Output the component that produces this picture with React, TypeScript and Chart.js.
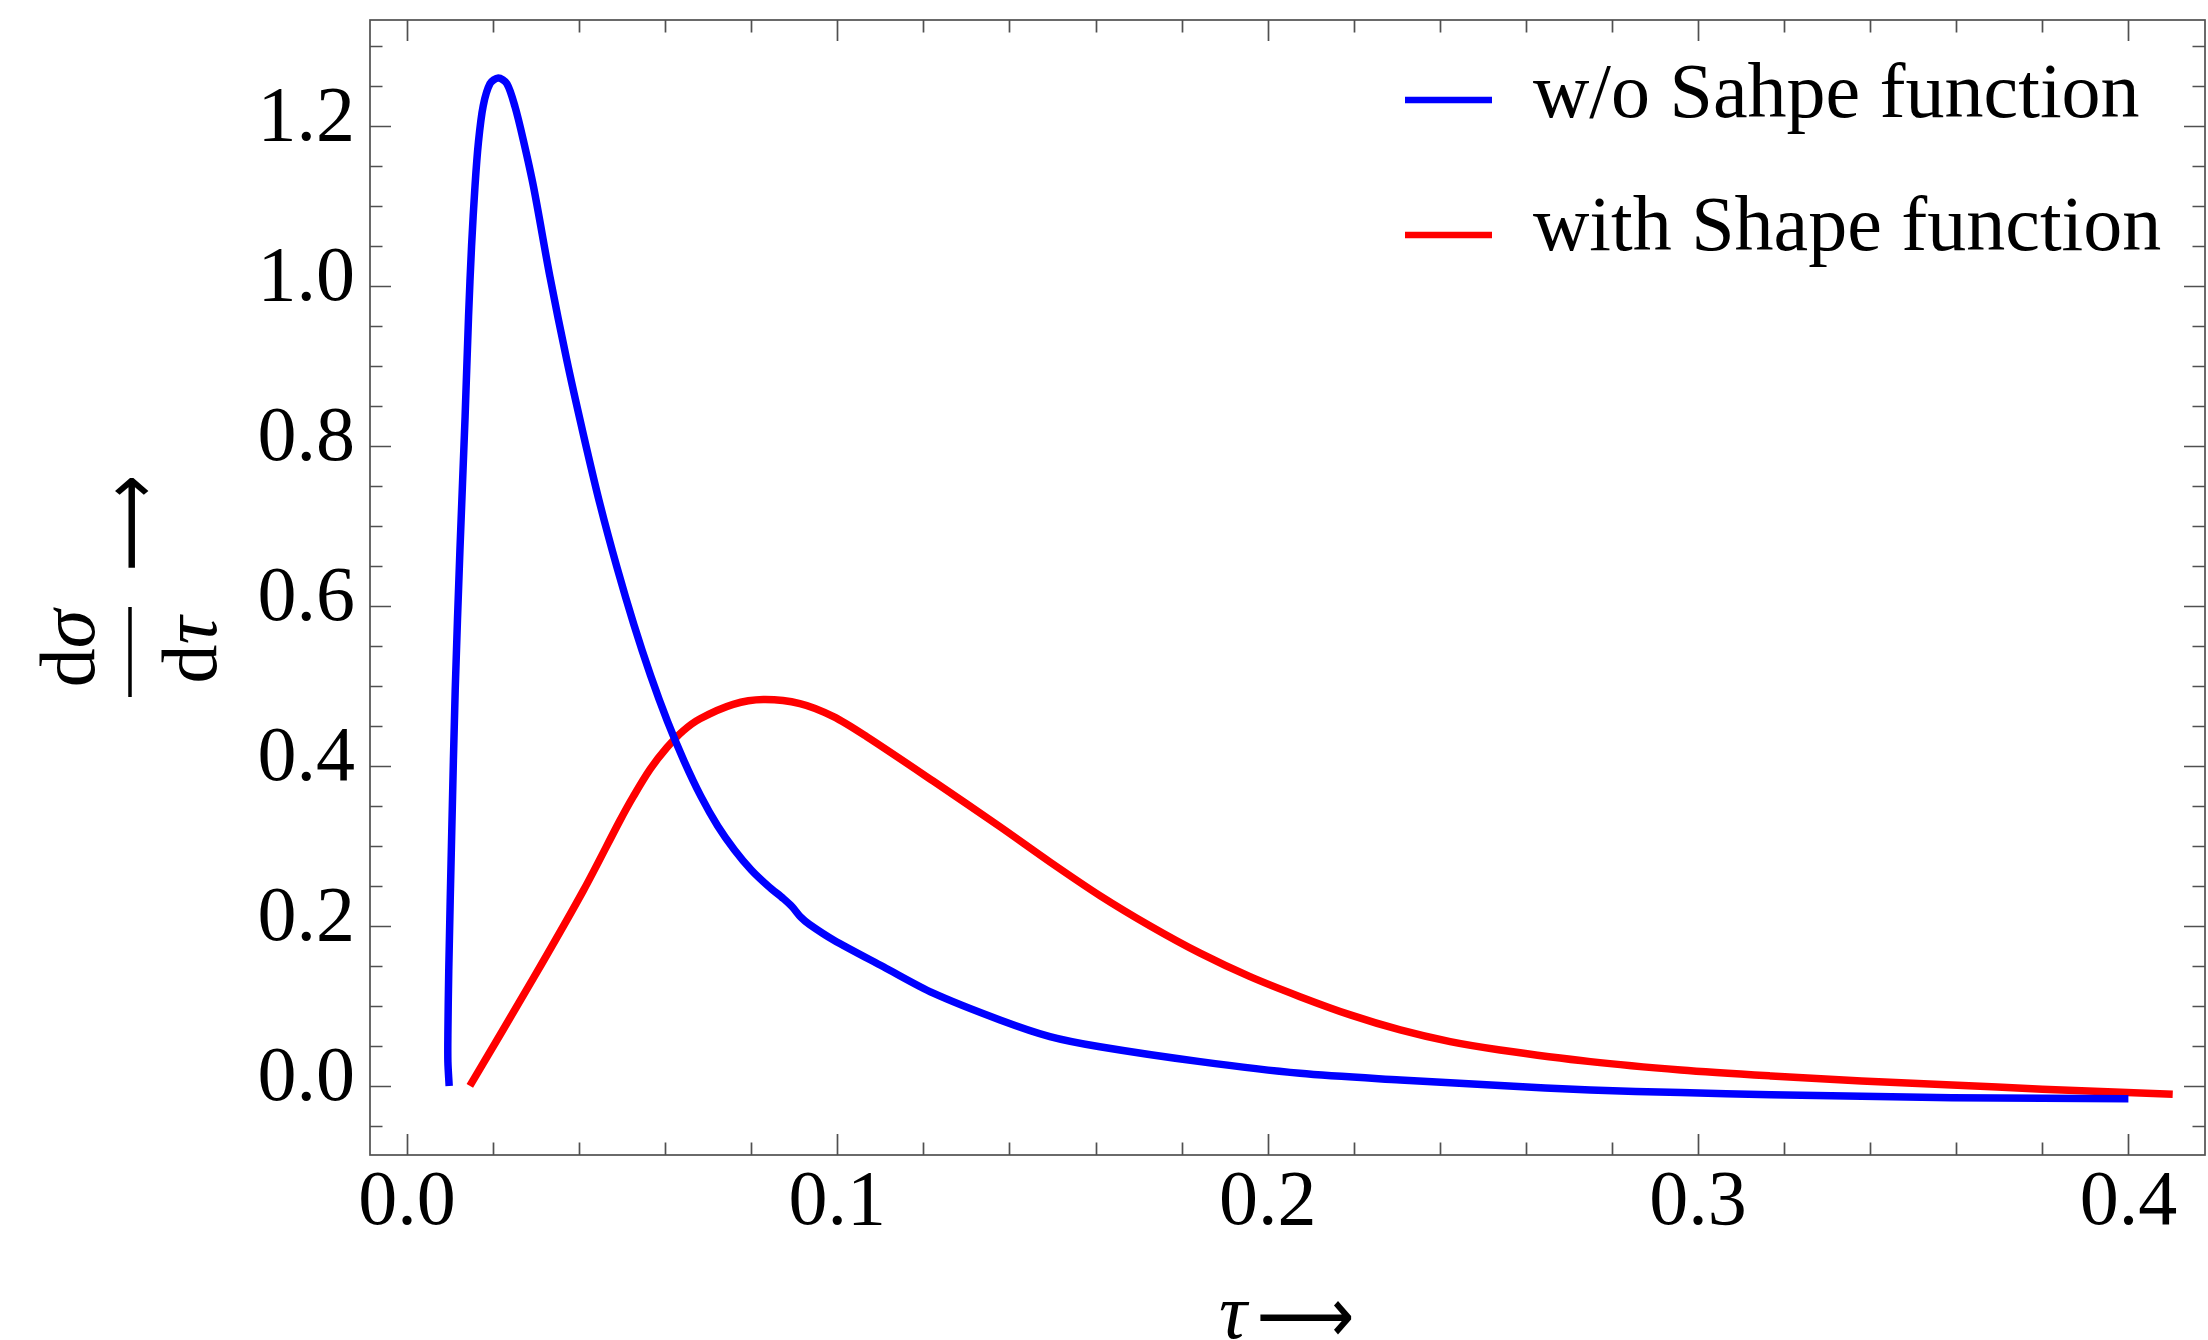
import React, { useEffect, useRef } from "react";
import { Chart, registerables } from "chart.js";

Chart.register(...registerables);

// ---- data ----
const blueTau = [
  0.0098, 0.0095, 0.0095, 0.0097, 0.0104, 0.0112, 0.0123, 0.0135, 0.0143, 0.015, 0.0158,
  0.0166, 0.0177, 0.0193, 0.0212, 0.0232, 0.0251, 0.027, 0.0294, 0.0332, 0.0371, 0.041,
  0.0449, 0.0488, 0.0527, 0.0566, 0.0605, 0.0644, 0.0683, 0.0722, 0.0761, 0.08, 0.0839,
  0.0875, 0.0895, 0.0915, 0.0935, 0.0991, 0.1107, 0.1223, 0.1378, 0.1494, 0.161, 0.1843,
  0.2075, 0.2308, 0.254, 0.275, 0.296, 0.317, 0.338, 0.359, 0.38, 0.4,
];
const blueVal = [
  0.0, 0.03, 0.065, 0.144, 0.319, 0.495, 0.67, 0.837, 0.962, 1.05, 1.125,
  1.18, 1.225, 1.253, 1.26, 1.253, 1.224, 1.183, 1.124, 1.012, 0.908, 0.814,
  0.726, 0.648, 0.577, 0.513, 0.456, 0.406, 0.362, 0.325, 0.295, 0.27, 0.25,
  0.234, 0.224, 0.211, 0.202, 0.1825, 0.149, 0.116, 0.0825, 0.0617, 0.049, 0.0304,
  0.0158, 0.0075, 0.0005, -0.005, -0.0083, -0.011, -0.013, -0.0146, -0.0154, -0.016,
];
const redTau = [
  0.0146, 0.0294, 0.041, 0.0495, 0.0526, 0.0565, 0.0604, 0.0642, 0.0681, 0.0758, 0.0828,
  0.0913, 0.0991, 0.1068, 0.1223, 0.1378, 0.1494, 0.161, 0.1727, 0.1843, 0.1959, 0.2075,
  0.2192, 0.2308, 0.2424, 0.254, 0.275, 0.296, 0.317, 0.338, 0.359, 0.38, 0.4103,
];
const redVal = [
  0.0, 0.135, 0.2445, 0.332, 0.362, 0.396, 0.423, 0.444, 0.459, 0.477, 0.483,
  0.478, 0.4617, 0.4367, 0.381, 0.324, 0.28, 0.238, 0.2, 0.166, 0.1366, 0.1116,
  0.0888, 0.07, 0.0554, 0.045, 0.0304, 0.02, 0.0125, 0.0062, 0.0012, -0.004, -0.0104,
];
const seriesLabels = ["w/o Sahpe function", "with Shape function"];
const seriesColors = ["#0000ff", "#ff0000"];
const xTickValues = [0, 0.1, 0.2, 0.3, 0.4];
const yTickValues = [0, 0.2, 0.4, 0.6, 0.8, 1.0, 1.2];
const X_MIN = -0.0086;
const X_MAX = 0.4178;
const Y_MIN = -0.0863;
const Y_MAX = 1.3325;
const X_MINOR = 0.02;
const Y_MINOR = 0.05;

const SERIF = '"Liberation Serif", "Times New Roman", serif';
const FS = 78;

function drawFitted(ctx: CanvasRenderingContext2D, text: string, font: string, x0: number, x1: number, cy: number) {
  ctx.font = font;
  const m = ctx.measureText(text);
  const inkW = m.actualBoundingBoxLeft + m.actualBoundingBoxRight;
  const sx = (x1 - x0) / inkW;
  const midOff = (m.actualBoundingBoxAscent - m.actualBoundingBoxDescent) / 2;
  ctx.save();
  ctx.translate(x0, cy + midOff);
  ctx.scale(sx, 1);
  ctx.textAlign = "left";
  ctx.textBaseline = "alphabetic";
  ctx.fillText(text, m.actualBoundingBoxLeft, 0);
  ctx.restore();
}

function drawDPair(ctx: CanvasRenderingContext2D, sym: string, cx: number, base: number) {
  const reg = `${FS}px ${SERIF}`;
  const ita = `italic ${FS}px ${SERIF}`;
  ctx.font = reg;
  const wd = ctx.measureText("d").width;
  ctx.font = ita;
  const ws = ctx.measureText(sym).width;
  const start = cx - (wd + ws) / 2;
  ctx.textAlign = "left";
  ctx.textBaseline = "alphabetic";
  ctx.font = reg;
  ctx.fillText("d", start, base);
  ctx.font = ita;
  ctx.fillText(sym, start + wd, base);
}

const framePlugin = {
  id: "mmaFrame",
  afterDraw(chart: any) {
    const { ctx, chartArea: a, scales } = chart;
    const xs = scales.x;
    const ys = scales.y;
    ctx.save();
    ctx.strokeStyle = "#505050";
    ctx.lineWidth = 1.7;
    ctx.strokeRect(a.left, a.top, a.right - a.left, a.bottom - a.top);
    const MAJ = 21;
    const MIN = 12.5;
    ctx.beginPath();
    for (let i = 0; i <= 20; i++) {
      const v = i * X_MINOR;
      if (v < X_MIN || v > X_MAX) continue;
      const px = Math.round(xs.getPixelForValue(v)) + 0.5;
      const len = i % 5 === 0 ? MAJ : MIN;
      ctx.moveTo(px, a.bottom);
      ctx.lineTo(px, a.bottom - len);
      ctx.moveTo(px, a.top);
      ctx.lineTo(px, a.top + len);
    }
    for (let i = -1; i <= 26; i++) {
      const v = i * Y_MINOR;
      if (v < Y_MIN || v > Y_MAX) continue;
      const py = Math.round(ys.getPixelForValue(v)) + 0.5;
      const len = ((i % 4) + 4) % 4 === 0 ? MAJ : MIN;
      ctx.moveTo(a.left, py);
      ctx.lineTo(a.left + len, py);
      ctx.moveTo(a.right, py);
      ctx.lineTo(a.right - len, py);
    }
    ctx.stroke();

    // legend
    const ds = chart.data.datasets;
    const legendRows = [
      { ly: 100, base: 117 },
      { ly: 235, base: 250 },
    ];
    ds.forEach((d: any, i: number) => {
      const r = legendRows[i];
      ctx.strokeStyle = d.borderColor;
      ctx.lineWidth = 6.5;
      ctx.beginPath();
      ctx.moveTo(1405, r.ly);
      ctx.lineTo(1492, r.ly);
      ctx.stroke();
      ctx.fillStyle = "#000";
      ctx.font = `${FS}px ${SERIF}`;
      ctx.textAlign = "left";
      ctx.textBaseline = "alphabetic";
      ctx.fillText(d.label, 1533, r.base);
    });

    // x axis title: τ⟶
    ctx.fillStyle = "#000";
    ctx.font = `italic ${FS}px ${SERIF}`;
    const tm = ctx.measureText("τ");
    ctx.textAlign = "left";
    ctx.textBaseline = "alphabetic";
    ctx.fillText("τ", 1220 + tm.actualBoundingBoxLeft, 1338);
    drawFitted(ctx, "⟶", `${FS}px "DejaVu Sans", ${SERIF}`, 1260, 1352, 1318);

    // y axis title: dσ/dτ ⟶ (rotated)
    ctx.save();
    ctx.rotate(-Math.PI / 2);
    drawDPair(ctx, "σ", -648.5, 94);
    drawDPair(ctx, "τ", -650, 216);
    ctx.strokeStyle = "#000";
    ctx.lineWidth = 3.5;
    ctx.beginPath();
    ctx.moveTo(-697, 130);
    ctx.lineTo(-607, 130);
    ctx.stroke();
    drawFitted(ctx, "⟶", `${FS}px "DejaVu Sans", ${SERIF}`, -568, -477, 132);
    ctx.restore();

    ctx.restore();
  },
};

export default function App() {
  const ref = useRef<HTMLCanvasElement>(null);
  useEffect(() => {
    const tickFont = { family: SERIF, size: FS };
    const chart = new Chart(ref.current as HTMLCanvasElement, {
      type: "line",
      data: {
        datasets: [
          {
            label: seriesLabels[0],
            data: blueTau.map((t, i) => ({ x: t, y: blueVal[i] })),
            borderColor: seriesColors[0],
            backgroundColor: seriesColors[0],
            borderWidth: 7.5,
            pointRadius: 0,
            tension: 0.3,
            fill: false,
          },
          {
            label: seriesLabels[1],
            data: redTau.map((t, i) => ({ x: t, y: redVal[i] })),
            borderColor: seriesColors[1],
            backgroundColor: seriesColors[1],
            borderWidth: 7.5,
            pointRadius: 0,
            tension: 0.3,
            fill: false,
          },
        ],
      },
      options: {
        responsive: false,
        animation: false,
        devicePixelRatio: 1,
        layout: { padding: { top: 20, right: 3, left: 0, bottom: 0 } },
        plugins: { legend: { display: false }, tooltip: { enabled: false } },
        scales: {
          x: {
            type: "linear",
            min: X_MIN,
            max: X_MAX,
            afterBuildTicks: (s: any) => {
              s.ticks = xTickValues.map((v) => ({ value: v }));
            },
            afterFit: (s: any) => {
              s.height = 185;
              s.paddingLeft = 0;
              s.paddingRight = 0;
            },
            grid: { display: false, drawTicks: false },
            border: { display: false },
            ticks: {
              autoSkip: false,
              maxRotation: 0,
              padding: 2,
              font: tickFont,
              color: "#000",
              callback: (v: any) => Number(v).toFixed(1),
            },
          },
          y: {
            type: "linear",
            min: Y_MIN,
            max: Y_MAX,
            afterBuildTicks: (s: any) => {
              s.ticks = yTickValues.map((v) => ({ value: v }));
            },
            afterFit: (s: any) => {
              s.width = 370;
              s.paddingTop = 0;
              s.paddingBottom = 0;
            },
            grid: { display: false, drawTicks: false },
            border: { display: false },
            ticks: {
              autoSkip: false,
              padding: 15,
              labelOffset: -6,
              font: tickFont,
              color: "#000",
              callback: (v: any) => Number(v).toFixed(1),
            },
          },
        },
      },
      plugins: [framePlugin],
    } as any);
    return () => chart.destroy();
  }, []);
  return (
    <canvas
      ref={ref}
      width={2208}
      height={1340}
      style={{ position: "absolute", left: 0, top: 0, width: 2208, height: 1340 }}
    />
  );
}
